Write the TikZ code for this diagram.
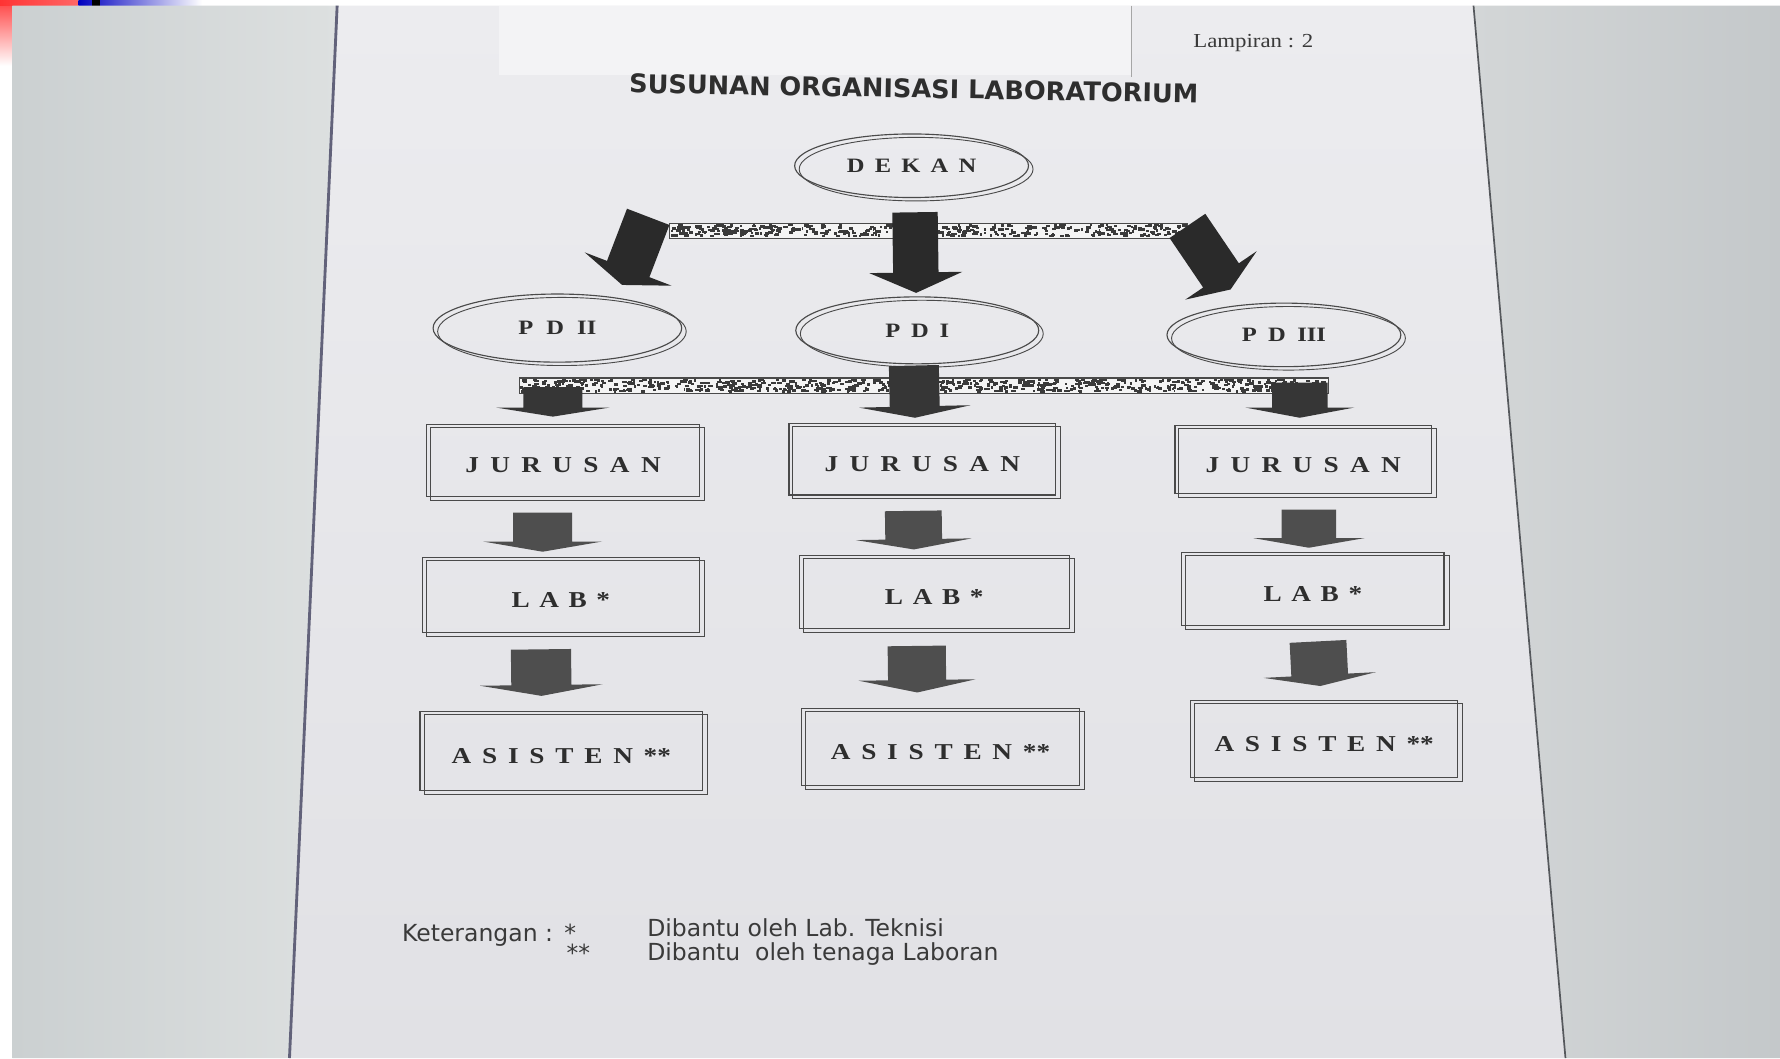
\documentclass[tikz,border=0pt]{standalone}
\usepackage{fontspec}
\usepackage{graphicx}
\setmainfont{Liberation Serif}
\newfontfamily\dejasans{DejaVu Sans}
\newfontfamily\wideserif{Liberation Serif}[FakeStretch=1.2]
\usetikzlibrary{shapes.geometric,calc}
\definecolor{bgleftA}{HTML}{CBD0D1}
\definecolor{bgleftB}{HTML}{DDE0E0}
\definecolor{bgrightA}{HTML}{D3D6D7}
\definecolor{bgrightB}{HTML}{C4C8CA}
\definecolor{pageA}{HTML}{ECECEF}
\definecolor{pageB}{HTML}{E1E1E5}
\definecolor{stripc}{HTML}{F3F3F5}
\definecolor{edgec}{HTML}{62627A}
\definecolor{edgec2}{HTML}{55585C}
\definecolor{linec}{HTML}{4A4A4A}
\definecolor{textc}{HTML}{2E2E2E}
\definecolor{legc}{HTML}{3A3A3A}
\definecolor{arrdark}{HTML}{2A2A2A}
\definecolor{arrmid}{HTML}{363636}
\definecolor{arrlow}{HTML}{4E4E4E}
\definecolor{speckc}{HTML}{3A3A3A}
\definecolor{barfill}{HTML}{F4F4F4}

\makeatletter
\newcommand\lspc[2]{\def\lspc@k{#1}\let\lspc@sep\relax\@tfor\lspc@c:=#2\do{\lspc@sep\lspc@c\def\lspc@sep{\kern\lspc@k}}}
\makeatother

\newcommand\blockarrow[6]{%
  \coordinate (bah) at ($(#2)!#5pt!(#1)$);
  \fill[#6] ($(#1)!#3pt!90:(#2)$) -- ($(bah)!#3pt!90:(#2)$) -- ($(bah)!#4pt!90:(#2)$) -- (#2)
    -- ($(bah)!#4pt!-90:(#2)$) -- ($(bah)!#3pt!-90:(#2)$) -- ($(#1)!#3pt!-90:(#2)$) -- cycle;}

\newcommand\speckbar[5]{%
  \fill[barfill] (#1,#2) rectangle (#3,#4);
  \pgfmathsetseed{#5}
  \foreach \k in {1,...,#5}{%
    \pgfmathsetmacro\bsx{#1+(#3-#1-4)*rnd}%
    \pgfmathsetmacro\bsy{#2+(#4-#2-3)*rnd}%
    \pgfmathsetmacro\bsw{1.5+3*rnd}%
    \fill[speckc] (\bsx,\bsy) rectangle ++(\bsw,2.2);}
  \draw[line width=1pt, linec] (#1,#2) rectangle (#3,#4);}

\tikzset{
  ellnode/.style={ellipse, draw=linec, line width=1pt, inner sep=0pt, text=textc,
    font=\wideserif\bfseries\fontsize{18}{19}\selectfont},
  boxnode/.style={rectangle, draw=linec, line width=1pt, inner sep=0pt, text=textc,
    font=\wideserif\bfseries\fontsize{20}{21}\selectfont, text height=22.2pt, text depth=0pt},
  copyline/.style={draw=linec, line width=0.8pt},
  legend/.style={inner sep=0pt, text=legc, font=\dejasans\fontsize{20.7}{22}\selectfont},
}

\begin{document}
\begin{tikzpicture}[x=1pt,y=-1pt]
\useasboundingbox (0,0) rectangle (1568,932);
\fill[white] (0,0) rectangle (1568,932);
% slide decoration
\shade[top color=red!75, bottom color=white] (0,0) rectangle (11,58);
\shade[left color=red!80, right color=red!60] (0,0) rectangle (69,5);
\shade[left color=blue!75!black, right color=white] (69,0) rectangle (178,5);
\fill[black] (81,0) rectangle (88,5);
% photo background
\shade[left color=bgleftA, right color=bgleftB] (11,5) -- (297,5) -- (255,932) -- (11,932) -- cycle;
\shade[top color=pageA, bottom color=pageB] (297,5) -- (1298,5) -- (1379,932) -- (255,932) -- cycle;
\shade[left color=bgrightA, right color=bgrightB] (1298,5) -- (1568,5) -- (1568,932) -- (1379,932) -- cycle;
\draw[line width=2.5pt, edgec] (297,5) -- (255,932);
\draw[line width=1.5pt, edgec2] (1298,5) -- (1379,932);
\fill[stripc] (440,5) rectangle (997,66);
\draw[line width=0.8pt, gray!70] (997,5) -- (997,68);

% headings
\node[font=\dejasans\bfseries\fontsize{22.6}{24}\selectfont, text=textc, rotate=-1] (title) at (805,78) {SUSUNAN ORGANISASI LABORATORIUM};
\node[font=\fontsize{17.5}{19}\selectfont, text=legc, inner sep=0pt] (lamp) at (1104,38) {\scalebox{1.15}[1]{Lampiran : 2}};

% ellipses
\node[ellnode, minimum width=206pt, minimum height=56pt] (dekan) at (803,146) {\lspc{9pt}{DEKAN}};
\node[ellnode, minimum width=219pt, minimum height=60pt] (pd2) at (491,289) {\lspc{11.5pt}{PD{II}}};
\node[ellnode, minimum width=214pt, minimum height=59pt] (pd1) at (808,291) {\lspc{9.5pt}{PDI}};
\node[ellnode, minimum width=206pt, minimum height=56pt] (pd3) at (1131,295) {\lspc{10pt}{PD{III}}};
\draw[copyline] ([shift={(4,3)}]dekan.center) ellipse [x radius=103pt, y radius=28pt];
\draw[copyline] ([shift={(4,3)}]pd2.center) ellipse [x radius=109.5pt, y radius=30pt];
\draw[copyline] ([shift={(4,3)}]pd1.center) ellipse [x radius=107pt, y radius=29.5pt];
\draw[copyline] ([shift={(4,3)}]pd3.center) ellipse [x radius=103pt, y radius=28pt];

% boxes
\node[boxnode, minimum width=240pt, minimum height=63pt] (jur1) at (496,405.5) {\lspc{10pt}{JURUSAN}};
\node[boxnode, minimum width=235pt, minimum height=63pt] (jur2) at (812.5,404.5) {\lspc{10pt}{JURUSAN}};
\node[boxnode, minimum width=226pt, minimum height=60pt] (jur3) at (1148,405) {\lspc{10pt}{JURUSAN}};
\node[boxnode, minimum width=244pt, minimum height=66pt] (lab1) at (494,524) {\lspc{8.5pt}{LAB*}};
\node[boxnode, minimum width=238pt, minimum height=65pt] (lab2) at (823,521.5) {\lspc{8.5pt}{LAB*}};
\node[boxnode, minimum width=231pt, minimum height=64pt] (lab3) at (1156.5,519) {\lspc{8.5pt}{LAB*}};
\node[boxnode, minimum width=249pt, minimum height=69pt] (asi1) at (494.5,661.5) {\lspc{9.5pt}{ASISTEN{**}}};
\node[boxnode, minimum width=245pt, minimum height=68pt] (asi2) at (828.5,658) {\lspc{9.5pt}{ASISTEN{**}}};
\node[boxnode, minimum width=235pt, minimum height=68pt] (asi3) at (1166.5,651) {\lspc{9.5pt}{ASISTEN{**}}};
\foreach \b in {jur1,jur2,jur3,lab1,lab2,lab3,asi1,asi2,asi3}{
  \draw[copyline] ([shift={(4,3)}]\b.north west) rectangle ([shift={(4,3)}]\b.south east);
}

% connector bars
\speckbar{590}{197}{1046}{210}{420}
\speckbar{458}{333}{1170}{347}{720}

% top arrows (DEKAN -> PD)
\coordinate (tAs) at (571,191); \coordinate (tAt) at (548,251);
\coordinate (tBs) at (806,187); \coordinate (tBt) at (807,258);
\coordinate (tCs) at (1046,199); \coordinate (tCt) at (1084,255);
\blockarrow{tAs}{tAt}{20}{41}{15}{arrdark}
\blockarrow{tBs}{tBt}{20}{41}{18}{arrdark}
\blockarrow{tCs}{tCt}{19}{38}{15}{arrdark}

% PD -> JURUSAN
\coordinate (mAs) at (487,341); \coordinate (mAt) at (487,367);
\coordinate (mBs) at (805,322); \coordinate (mBt) at (806,368);
\coordinate (mCs) at (1145,337); \coordinate (mCt) at (1145,368);
\blockarrow{mAs}{mAt}{26}{50}{8}{arrmid}
\blockarrow{mBs}{mBt}{22}{49}{10}{arrmid}
\blockarrow{mCs}{mCt}{24.5}{48}{9}{arrmid}

% JURUSAN -> LAB
\coordinate (jAs) at (478,451.5); \coordinate (jAt) at (478,486);
\coordinate (jBs) at (804.5,450); \coordinate (jBt) at (805,484);
\coordinate (jCs) at (1153,449); \coordinate (jCt) at (1153,482.5);
\blockarrow{jAs}{jAt}{26}{52.5}{9}{arrlow}
\blockarrow{jBs}{jBt}{25}{51}{9}{arrlow}
\blockarrow{jCs}{jCt}{24}{49}{8.5}{arrlow}

% LAB -> ASISTEN
\coordinate (lAs) at (476.5,572); \coordinate (lAt) at (477,613);
\coordinate (lBs) at (807.5,569); \coordinate (lBt) at (808,610);
\coordinate (lCs) at (1161,565); \coordinate (lCt) at (1163,604.3);
\blockarrow{lAs}{lAt}{26.5}{54}{9.6}{arrlow}
\blockarrow{lBs}{lBt}{25.6}{51.5}{11}{arrlow}
\blockarrow{lCs}{lCt}{25}{49.5}{9.7}{arrlow}

% legend
\node[legend, anchor=base west] (ket) at (354,829.5) {Keterangan :};
\node[legend, anchor=base west] (st1) at (497,829.5) {*};
\node[legend, anchor=base west] (st2) at (499,847) {**};
\node[legend, anchor=base west] (d1) at (570,825) {Dibantu oleh Lab. Teknisi};
\node[legend, anchor=base west] (d2) at (570,846) {Dibantu\ \ oleh tenaga Laboran};
\end{tikzpicture}
\end{document}
